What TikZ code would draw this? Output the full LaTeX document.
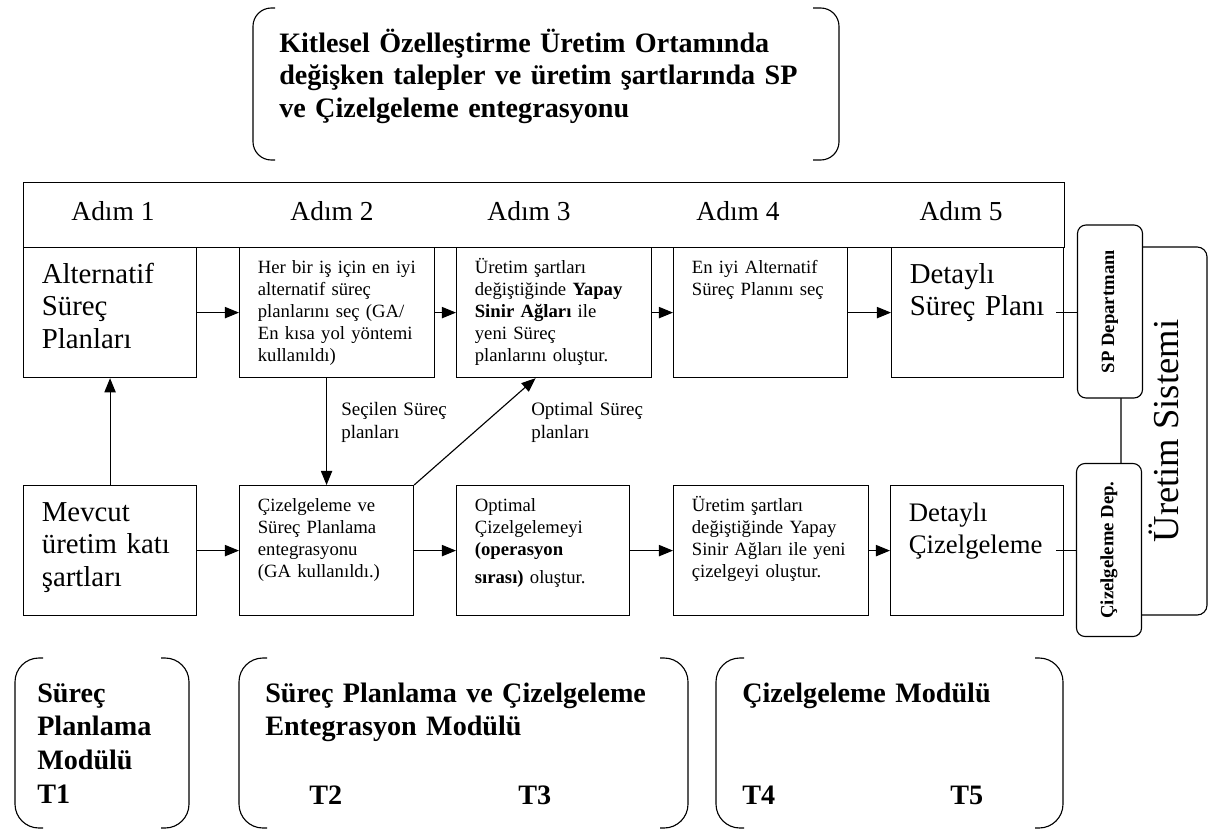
\documentclass[tikz,border=0pt]{standalone}
\usepackage{fontspec}
\setmainfont{Liberation Serif}
\usetikzlibrary{arrows.meta}
\tikzset{
  stepbox/.style={draw, line width=0.8pt, anchor=north west, inner xsep=13pt, inner ysep=0pt, align=left, text width=#1*0.025cm-26pt},
  smallbox/.style={stepbox=#1, font=\fontsize{13.3}{15.6}\selectfont, text height=18.5pt, text depth=74pt},
  bigbox/.style={stepbox=#1, font=\fontsize{20.5}{23}\selectfont, text height=25.6pt, text depth=66.9pt},
  deptbox/.style={draw, line width=0.8pt, fill=white, rounded corners=6pt, rotate=90, minimum width=173*0.025cm, minimum height=65*0.025cm, inner sep=0pt, font=\bfseries\fontsize{13.3}{15}\selectfont},
  flow/.style={-{Triangle[length=10pt,width=8pt]}, line width=0.8pt},
  steplabel/.style={font=\fontsize{19.5}{22}\selectfont},
  note/.style={anchor=base west, align=left, inner sep=0pt, text width=130*0.025cm, font=\fontsize{13.5}{16.4}\selectfont},
  modtext/.style={anchor=base west, align=left, inner sep=0pt, text width=#1*0.025cm, font=\bfseries\fontsize{20}{24}\selectfont},
  bracket/.style={line width=0.8pt, rounded corners=17pt}
}
\begin{document}
\begin{tikzpicture}[x=0.025cm, y=-0.025cm]
\useasboundingbox (0,0) rectangle (1208,830);
% title
\draw [bracket, rounded corners=13pt] (275,8) -- (253,8) -- (253,160) -- (275,160);
\draw [bracket, rounded corners=13pt] (813,8) -- (839,8) -- (839,160) -- (813,160);
\node [modtext=540, font=\bfseries\fontsize{20}{23.3}\selectfont] (baslik) at (279,52) {Kitlesel Özelleştirme Üretim Ortamında\\değişken talepler ve üretim şartlarında SP\\ve Çizelgeleme entegrasyonu};
% steps
\node [draw, line width=0.8pt, anchor=north west, minimum width=1041*0.025cm, minimum height=65*0.025cm, inner sep=0pt] (adimbar) at (23,182) {};
\node [steplabel] (adim1) at (113,211) {Adım 1};
\node [steplabel] (adim2) at (332,211) {Adım 2};
\node [steplabel] (adim3) at (529,211) {Adım 3};
\node [steplabel] (adim4) at (738,211) {Adım 4};
\node [steplabel] (adim5) at (961,211) {Adım 5};
% upper row
\node [bigbox=173] (alt) at (23,247) {Alternatif\\Süreç\\Planları};
\node [smallbox=195] (sec) at (239,247) {Her bir iş için en iyi\\alternatif süreç\\planlarını seç (GA/\\En kısa yol yöntemi\\kullanıldı)};
\node [smallbox=195] (ysa) at (456,247) {Üretim şartları\\değiştiğinde \textbf{Yapay}\\\textbf{Sinir Ağları} ile\\yeni Süreç\\planlarını oluştur.};
\node [smallbox=174] (eniyi) at (673,247) {En iyi Alternatif\\Süreç Planını seç};
\node [bigbox=172] (dsp) at (891,247) {Detaylı\\Süreç Planı};
% lower row
\node [bigbox=173] (mevcut) at (23,485) {Mevcut\\üretim katı\\şartları};
\node [smallbox=174] (ent) at (239,485) {Çizelgeleme ve\\Süreç Planlama\\entegrasyonu\\(GA kullanıldı.)};
\node [smallbox=173] (opt) at (456,485) {Optimal\\Çizelgelemeyi\\\textbf{(operasyon}\\[4pt]\textbf{sırası)} oluştur.};
\node [smallbox=195] (yeni) at (673,485) {Üretim şartları\\değiştiğinde Yapay\\Sinir Ağları ile yeni\\çizelgeyi oluştur.};
\node [bigbox=173, font=\fontsize{19}{23}\selectfont] (dciz) at (890,485) {Detaylı\\Çizelgeleme};
% arrows
\draw [flow] (alt) -- (sec);
\draw [flow] (sec) -- (ysa);
\draw [flow] (ysa) -- (eniyi);
\draw [flow] (eniyi) -- (dsp);
\draw [flow] (mevcut) -- (ent);
\draw [flow] (ent) -- (opt);
\draw [flow] (opt) -- (yeni);
\draw [flow] (yeni) -- (dciz);
\draw [flow] (mevcut) -- (alt);
\draw [flow] (sec.south -| ent.north) -- (ent.north);
\draw [flow] (ent.north east) -- ([xshift=-0.4625cm]ysa.south);
\node [note] (secilen) at (341,415) {Seçilen Süreç\\planları};
\node [note] (optimal) at (531,415) {Optimal Süreç\\planları};
% production system
\draw [line width=0.8pt, rounded corners=7pt] (1121,247) rectangle (1207,615);
\node [rotate=90, font=\fontsize{26}{28}\selectfont] (uretim) at (1164,431) {Üretim Sistemi};
\node [deptbox] (spdep) at (1110,311.5) {SP Departmanı};
\node [deptbox] (cizdep) at (1109,550) {Çizelgeleme Dep.};
\draw [line width=0.8pt] ([xshift=-0.2cm]dsp.east) -- (dsp.east -| spdep.north);
\draw [line width=0.8pt] ([xshift=-0.2cm]dciz.east) -- (dciz.east -| cizdep.north);
% modules
\draw [bracket] (43,658) -- (15,658) -- (15,828) -- (43,828);
\draw [bracket] (161,658) -- (189,658) -- (189,828) -- (161,828);
\node [modtext=150] (mod1) at (37,702) {Süreç\\Planlama\\Modülü\\T1};
\draw [bracket] (267,658) -- (239,658) -- (239,828) -- (267,828);
\draw [bracket] (660,658) -- (688,658) -- (688,828) -- (660,828);
\node [modtext=420] (mod2) at (265,702) {Süreç Planlama ve Çizelgeleme\\Entegrasyon Modülü};
\node [modtext=60] (t2) at (309,804) {T2};
\node [modtext=60] (t3) at (518,804) {T3};
\draw [bracket] (744,658) -- (716,658) -- (716,828) -- (744,828);
\draw [bracket] (1035,658) -- (1063,658) -- (1063,828) -- (1035,828);
\node [modtext=300] (mod3) at (742,702) {Çizelgeleme Modülü};
\node [modtext=60] (t4) at (742,804) {T4};
\node [modtext=60] (t5) at (950,804) {T5};
\end{tikzpicture}
\end{document}
